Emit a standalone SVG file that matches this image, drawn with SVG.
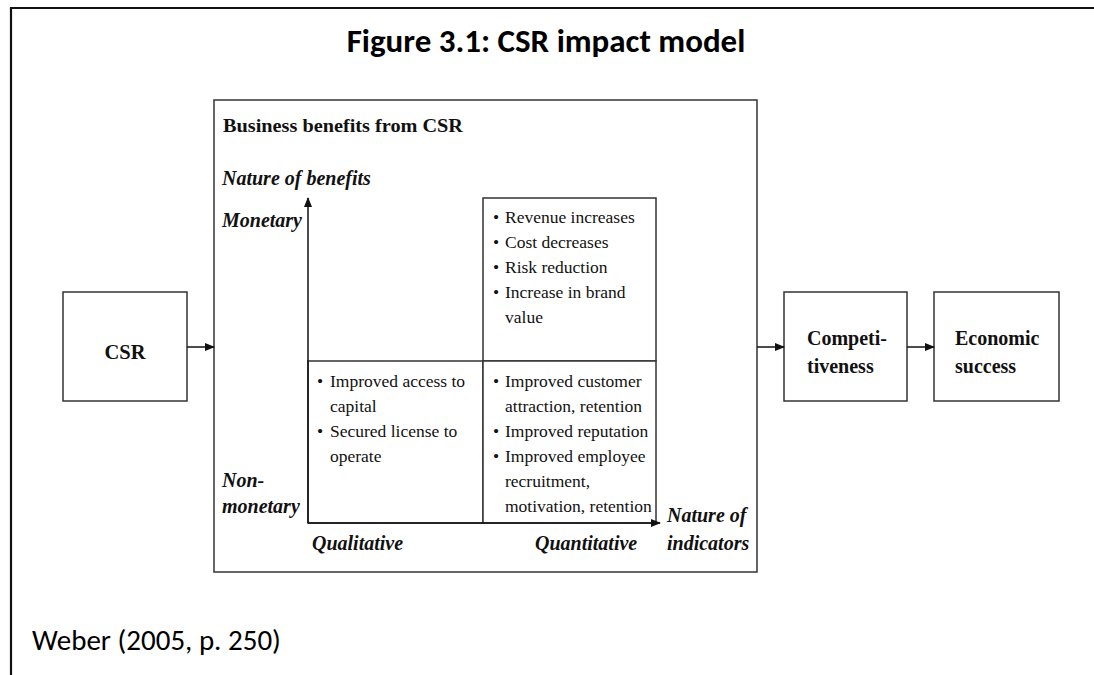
<svg xmlns="http://www.w3.org/2000/svg" width="1094" height="675" viewBox="0 0 1094 675">
<style>
.box{fill:#fff;stroke:#333;stroke-width:1.5}
.ln{stroke:#111;stroke-width:1.5;fill:none}
.t{font-family:"Liberation Serif","Times New Roman",serif;fill:#111}
.b{font-weight:bold}
.bi{font-weight:bold;font-style:italic}
.s{font-size:17.5px}
.m{font-size:20px}
.cal{font-family:Carlito,Lato,"Liberation Sans",sans-serif;fill:#000}
</style>
<defs>
<marker id="ah" markerWidth="10" markerHeight="8" refX="9" refY="4" orient="auto" markerUnits="userSpaceOnUse">
<path d="M0,0 L10,4 L0,8 z" fill="#111"/>
</marker>
</defs>
<rect width="1094" height="675" fill="#fff"/>
<g id="frame">
<path d="M11,675 L11,8 L1094,8" fill="none" stroke="#111" stroke-width="2.2"/>
</g>
<g id="title">
<text class="cal" x="546" y="52" font-size="33" font-weight="bold" text-anchor="middle">Figure 3.1: CSR impact model</text>
</g>
<g id="csr">
<rect class="box" x="63" y="292" width="124" height="109"/>
<text class="t b" font-size="20.5" x="125" y="359" text-anchor="middle">CSR</text>
</g>
<g id="benefits">
<rect class="box" x="214" y="100" width="543" height="472"/>
<text class="t b" font-size="18" x="223" y="132" textLength="240" lengthAdjust="spacingAndGlyphs">Business benefits from CSR</text>
<text class="t bi m" x="222" y="185">Nature of benefits</text>
<text class="t bi m" x="222" y="227">Monetary</text>
<text class="t bi m" x="222" y="487">Non-</text>
<text class="t bi m" x="222" y="513">monetary</text>
<text class="t bi m" x="312" y="550">Qualitative</text>
<text class="t bi m" x="535" y="550">Quantitative</text>
<text class="t bi m" x="667" y="522">Nature of</text>
<text class="t bi m" x="667" y="550">indicators</text>
</g>
<g id="quadrant-monetary-quantitative">
<rect class="box" x="483" y="198" width="173" height="163"/>
<g class="t s">
<text x="493" y="223">•</text><text x="505" y="223">Revenue increases</text>
<text x="493" y="248">•</text><text x="505" y="248">Cost decreases</text>
<text x="493" y="273">•</text><text x="505" y="273">Risk reduction</text>
<text x="493" y="298">•</text><text x="505" y="298">Increase in brand</text>
<text x="505" y="323">value</text>
</g>
</g>
<g id="quadrant-nonmonetary-qualitative">
<rect class="box" x="308" y="361" width="175" height="162"/>
<g class="t s">
<text x="317" y="387">•</text><text x="330" y="387">Improved access to</text>
<text x="330" y="412">capital</text>
<text x="317" y="437">•</text><text x="330" y="437">Secured license to</text>
<text x="330" y="462">operate</text>
</g>
</g>
<g id="quadrant-nonmonetary-quantitative">
<rect class="box" x="483" y="361" width="173" height="162"/>
<g class="t s">
<text x="493" y="387">•</text><text x="505" y="387">Improved customer</text>
<text x="505" y="412">attraction, retention</text>
<text x="493" y="437">•</text><text x="505" y="437">Improved reputation</text>
<text x="493" y="462">•</text><text x="505" y="462">Improved employee</text>
<text x="505" y="487">recruitment,</text>
<text x="505" y="512">motivation, retention</text>
</g>
</g>
<g id="competitiveness">
<rect class="box" x="784" y="292" width="123" height="109"/>
<text class="t b m" x="807" y="345">Competi-</text>
<text class="t b m" x="807" y="373">tiveness</text>
</g>
<g id="economic-success">
<rect class="box" x="934" y="292" width="125" height="109"/>
<text class="t b m" x="955" y="345">Economic</text>
<text class="t b m" x="955" y="373">success</text>
</g>
<g id="connectors">
<line class="ln" x1="308" y1="523" x2="308" y2="198" marker-end="url(#ah)"/>
<line class="ln" x1="308" y1="523" x2="660" y2="523" marker-end="url(#ah)"/>
<line class="ln" x1="187" y1="347" x2="214" y2="347" marker-end="url(#ah)"/>
<line class="ln" x1="757" y1="347" x2="784" y2="347" marker-end="url(#ah)"/>
<line class="ln" x1="907" y1="347" x2="934" y2="347" marker-end="url(#ah)"/>
</g>
<g id="source">
<text class="cal" x="32" y="650" font-size="29">Weber (2005, p. 250)</text>
</g>
</svg>
